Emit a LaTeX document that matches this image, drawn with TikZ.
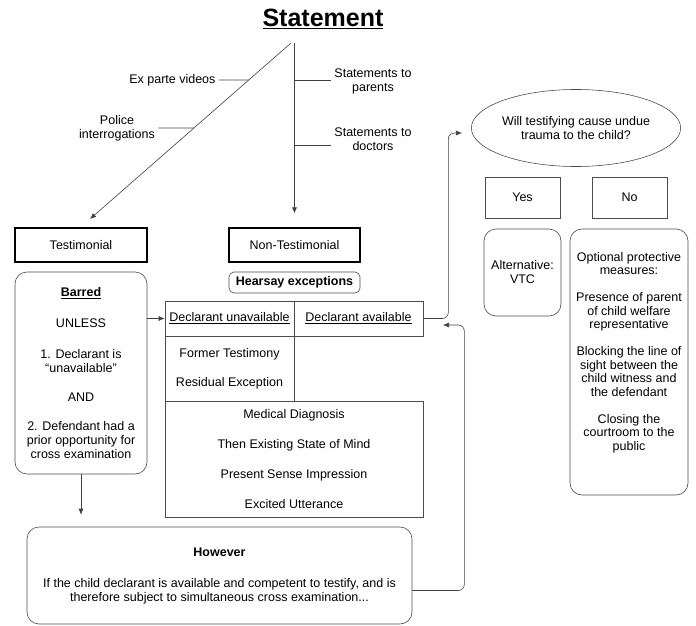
\documentclass[tikz,border=0pt]{standalone}
\usepackage{fontspec}
\setmainfont{Liberation Sans}
\usetikzlibrary{positioning}
\usetikzlibrary{arrows.meta,shapes.geometric}

\begin{document}
\begin{tikzpicture}[x=1pt,y=-1pt,
  every node/.style={font=\fontsize{12.5}{14}\selectfont,align=center},
  conn/.style={draw=black!75,line width=0.6pt},
  arr/.style={conn,-{Latex[length=6pt,width=5pt]}},
  heavybox/.style={draw=black,line width=1.4pt,minimum width=132pt,minimum height=34pt,inner sep=0pt},
  plainbox/.style={draw=black!70,line width=0.6pt,inner sep=0pt},
  softbox/.style={plainbox,rounded corners=12pt}]
 \useasboundingbox (0,0) rectangle (696,626);
 \node[font=\bfseries\fontsize{25}{28}\selectfont] (title) at (323,19) {\underline{Statement}};
 \coordinate (root) at (291,43);
 \coordinate (tend) at (90,219);
 \draw[arr] (root) -- (tend) coordinate[pos=0.21] (d1) coordinate[pos=0.483] (d2);
 \node[heavybox] (testi) at (81,245) {Testimonial};
 \node[heavybox,minimum width=131pt] (nontesti) at (294.5,245) {Non-Testimonial};
 \draw[arr,shorten >=14pt] (root -| nontesti) -- (nontesti);
 \node[anchor=east] (exparte) at (219,80) {Ex parte videos};
 \draw[conn] (exparte) -- (d1);
 \node (police) at (117,128) {Police\\interrogations};
 \draw[conn] (police) -- (d2);
 \coordinate (v1) at (294.5,80);
 \coordinate (v2) at (294.5,145);
 \node (parents) at (373,81) {Statements to\\parents};
 \draw[conn] (v1) -- (v1 -| parents.west);
 \node (doctors) at (373,139) {Statements to\\doctors};
 \draw[conn] (v2) -- (v2 -| doctors.west);

 \node[softbox,rounded corners=5pt,minimum width=131pt,minimum height=21pt,font=\bfseries\fontsize{12.5}{14}\selectfont] (hearsay) at (294.5,282.5) {Hearsay exceptions};
 \node[softbox,minimum width=132pt,minimum height=202pt] (barred) at (81,373) {\underline{\textbf{Barred}}\\[17pt]UNLESS\\[17pt]1. Declarant is\\``unavailable''\\[15pt]AND\\[15pt]2. Defendant had a\\prior opportunity for\\cross examination};
 \node[plainbox,minimum width=129pt,minimum height=35pt] (unavail) at (229.5,318.5) {\underline{Declarant unavailable}};
 \node[plainbox,minimum width=129pt,minimum height=35pt] (avail) at (358.5,318.5) {\underline{Declarant available}};
 \node[plainbox,minimum width=129pt,minimum height=65pt,below=0pt of unavail] (former) {Former Testimony\\[15pt]Residual Exception};
 \node[plainbox,minimum width=258pt,minimum height=116pt] (others) at (294,459) {Medical Diagnosis\\[16pt]Then Existing State of Mind\\[16pt]Present Sense Impression\\[16pt]Excited Utterance};
 \draw[arr] (barred.east |- unavail) -- (unavail);

 \node[softbox,minimum width=385pt,minimum height=97pt] (however) at (219.5,575.5) {\textbf{However}\\[17pt]If the child declarant is available and competent to testify, and is\\therefore subject to simultaneous cross examination...};
 \draw[arr,shorten >=12pt] (barred) -- (barred |- however.north);

 \node[ellipse,plainbox,minimum width=183pt,minimum height=77pt] (trauma) at (576,128) {Will testifying cause undue\\trauma to the child?};
 \node[plainbox,minimum width=75pt,minimum height=41pt] (yes) at (522.5,197.5) {Yes};
 \node[plainbox,minimum width=75pt,minimum height=41pt] (no) at (629.5,197.5) {No};
 \node[softbox,minimum width=77pt,minimum height=87pt] (vtc) at (522.5,272.5) {Alternative:\\VTC};
 \node[softbox,minimum width=118pt,minimum height=266pt] (optional) at (629,362) {};
 \node[font=\fontsize{12.5}{13.5}\selectfont] (measures) at (629,352.5) {Optional protective\\measures:\\[13.5pt]Presence of parent\\of child welfare\\representative\\[13.5pt]Blocking the line of\\sight between the\\child witness and\\the defendant\\[13.5pt]Closing the\\courtroom to the\\public};

 \draw[arr,rounded corners=6pt] (avail.east) -- ++(25,0) |- ([xshift=-9pt,yshift=-5pt]trauma.west);
 \coordinate (back) at (443,325);
 \draw[arr,rounded corners=6pt] ([yshift=-15pt]however.east) -- ++(52,0) |- (back);
\end{tikzpicture}
\end{document}
